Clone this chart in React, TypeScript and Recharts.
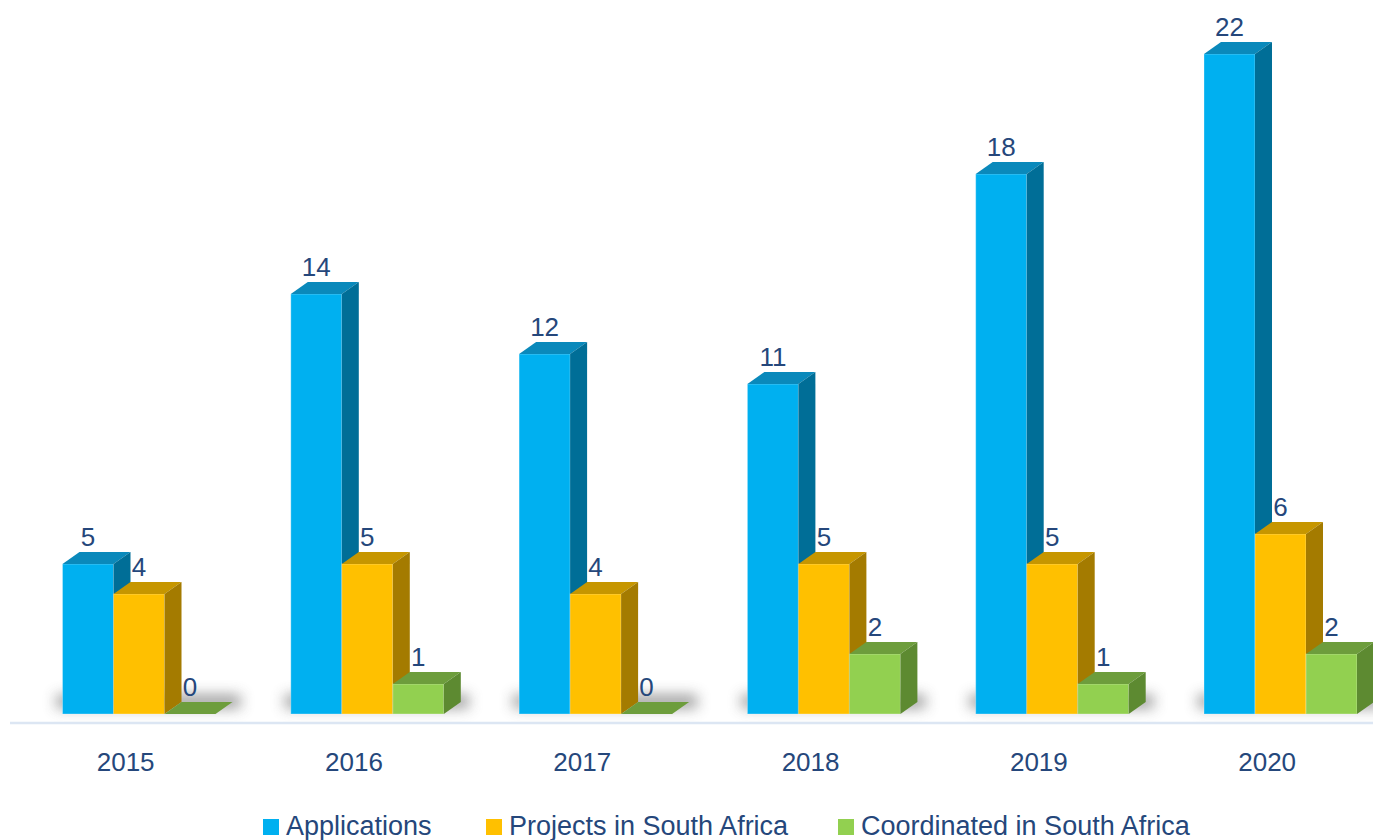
import React from 'react';
import { BarChart, Bar, XAxis, YAxis, Legend } from 'recharts';

const years = ['2015', '2016', '2017', '2018', '2019', '2020'];
const applications = [5, 14, 12, 11, 18, 22];
const projects = [4, 5, 4, 5, 5, 6];
const coordinated = [0, 1, 0, 2, 1, 2];

const seriesNames = ['Applications', 'Projects in South Africa', 'Coordinated in South Africa'];

const data = years.map((year, i) => ({
  year,
  applications: applications[i],
  projects: projects[i],
  coordinated: coordinated[i],
}));

const FONT = '"Liberation Sans", Arial, sans-serif';
const TEXT_COLOR = '#25477b';
const DX = 17;
const DY = 12;

const palette = {
  applications: { front: '#00b0f0', top: '#0a89bb', side: '#006e97' },
  projects: { front: '#ffc000', top: '#c69600', side: '#a47b00' },
  coordinated: { front: '#92d050', top: '#6d9d3c', side: '#5d8a31' },
};

const make3D = (c: { front: string; top: string; side: string }, withShadow: boolean) => (props: any) => {
  const { x, y, width: w, height: h, index } = props;
  if (x == null || y == null) return null;
  const base = y + h;
  return (
    <g>
      {withShadow && index === 0 && (
        <defs>
          <filter id="floorShadow" x="-50%" y="-300%" width="200%" height="700%">
            <feGaussianBlur stdDeviation="7" />
          </filter>
        </defs>
      )}
      {withShadow && (
        <rect
          x={x - 6}
          y={base - 19}
          width={3 * w + DX + 14}
          height={13}
          fill="#555"
          opacity={0.6}
          filter="url(#floorShadow)"
        />
      )}
      <rect x={x} y={y} width={w} height={h} fill={c.front} stroke="rgba(255,255,255,0.3)" strokeWidth={1} />
      <polygon
        points={`${x},${y} ${x + w},${y} ${x + w + DX},${y - DY} ${x + DX},${y - DY}`}
        fill={c.top}
      />
      <polygon
        points={`${x + w},${y} ${x + w + DX},${y - DY} ${x + w + DX},${base - DY} ${x + w},${base}`}
        fill={c.side}
      />
    </g>
  );
};

const renderLabel = (p: any) => {
  const { x, y, width, value } = p;
  return (
    <text
      x={x + width / 2}
      y={y - 18}
      textAnchor="middle"
      fill={TEXT_COLOR}
      fontFamily={FONT}
      fontSize={26}
    >
      {value}
    </text>
  );
};

const YearTick = (p: any) => {
  const { x, y, payload } = p;
  return (
    <text x={x - 13} y={y + 48} textAnchor="middle" fill={TEXT_COLOR} fontFamily={FONT} fontSize={26}>
      {payload.value}
    </text>
  );
};

const legendItems = [
  { name: seriesNames[0], color: palette.applications.front, sx: 263, tx: 286 },
  { name: seriesNames[1], color: palette.projects.front, sx: 486, tx: 509 },
  { name: seriesNames[2], color: palette.coordinated.front, sx: 838, tx: 861 },
];

const LegendContent = () => (
  <svg width={1373} height={40} style={{ display: 'block' }}>
    {legendItems.map((it) => (
      <g key={it.name}>
        <rect x={it.sx} y={19} width={16} height={16} fill={it.color} />
        <text x={it.tx} y={35} fill={TEXT_COLOR} fontFamily={FONT} fontSize={27}>
          {it.name}
        </text>
      </g>
    ))}
  </svg>
);

export default function App() {
  return (
    <div style={{ width: 1373, height: 840, overflow: 'hidden', position: 'relative', background: '#fff' }}>
      <style>{`body{margin:0;}`}</style>
      <BarChart
        width={1400}
        height={840}
        data={data}
        margin={{ top: 24, right: 5.7, left: 10, bottom: 0 }}
        barGap={0}
        barSize={51}
      >
        <XAxis
          dataKey="year"
          axisLine={{ stroke: '#dce6f3', strokeWidth: 2.5 }}
          tickLine={false}
          tickSize={0}
          tickMargin={0}
          height={77}
          padding={{ left: 14.5, right: 0 }}
          tick={<YearTick />}
          interval={0}
        />
        <YAxis hide domain={[-0.3, 23]} />
        <Legend
          verticalAlign="bottom"
          content={() => <LegendContent />}
          wrapperStyle={{ left: 0, width: 1373 }}
        />
        <Bar
          dataKey="applications"
          name={seriesNames[0]}
          fill={palette.applications.front}
          shape={make3D(palette.applications, true)}
          label={renderLabel}
          isAnimationActive={false}
        />
        <Bar
          dataKey="projects"
          name={seriesNames[1]}
          fill={palette.projects.front}
          shape={make3D(palette.projects, false)}
          label={renderLabel}
          isAnimationActive={false}
        />
        <Bar
          dataKey="coordinated"
          name={seriesNames[2]}
          fill={palette.coordinated.front}
          shape={make3D(palette.coordinated, false)}
          label={renderLabel}
          isAnimationActive={false}
        />
      </BarChart>
    </div>
  );
}
